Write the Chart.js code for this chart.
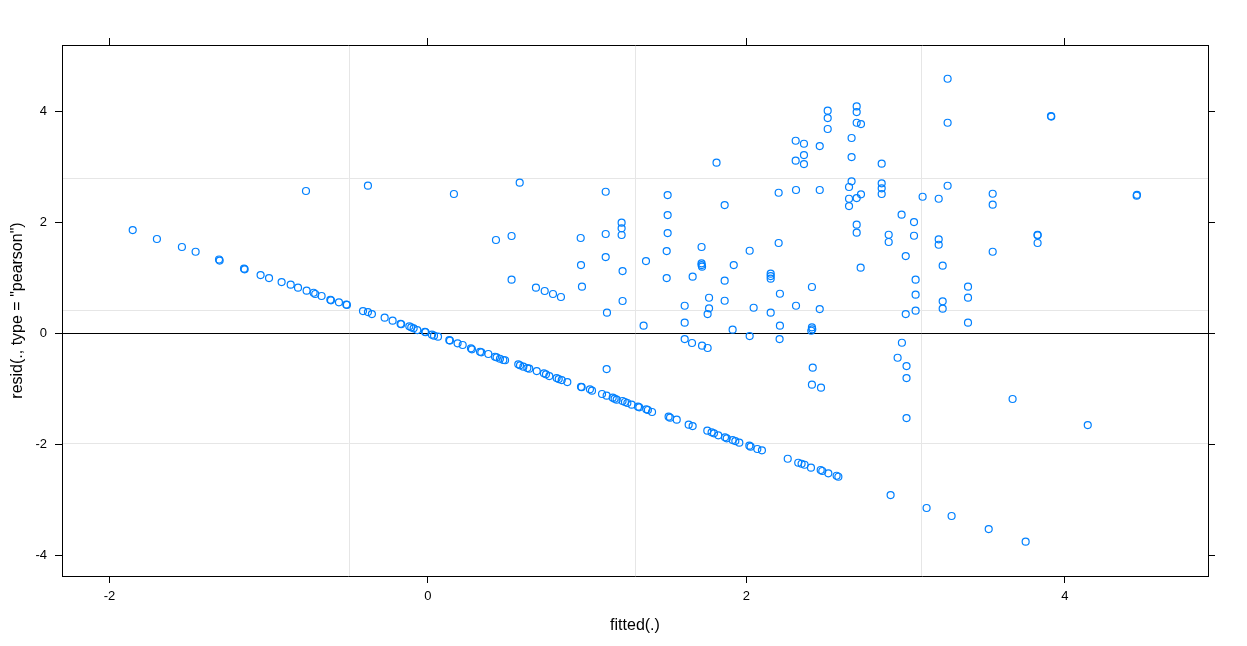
<!DOCTYPE html>
<html>
<head>
<meta charset="utf-8">
<script src="https://cdn.jsdelivr.net/npm/chart.js@4.4.1/dist/chart.umd.min.js"></script>
<style>
  body { margin: 0; background: #fff; }
  #wrap { width: 1247px; height: 646px; }
</style>
</head>
<body>
<div id="wrap"><canvas id="residChart"></canvas></div>
<script>
// points lying on the diagonal band (zero counts)
const lineFitted = [
  -1.854, -1.702, -1.545, -1.459, -1.312, -1.308, -1.155, -1.151, -1.051, -0.998,
  -0.919, -0.862, -0.816, -0.762, -0.718, -0.708, -0.668, -0.613, -0.609, -0.559,
  -0.513, -0.509, -0.408, -0.377, -0.352, -0.272, -0.222, -0.172, -0.168, -0.117,
  -0.105, -0.090, -0.067, -0.019, -0.015, 0.025, 0.038, 0.063, 0.134, 0.138,
  0.186, 0.218, 0.270, 0.276, 0.327, 0.335, 0.379, 0.421, 0.431, 0.452,
  0.473, 0.484, 0.567, 0.578, 0.599, 0.624, 0.636, 0.683, 0.728, 0.741,
  0.762, 0.808, 0.821, 0.840, 0.875, 0.961, 0.965, 1.017, 1.030, 1.093,
  1.122, 1.160, 1.172, 1.185, 1.222, 1.237, 1.252, 1.279, 1.319, 1.327,
  1.371, 1.381, 1.407, 1.511, 1.520, 1.562, 1.637, 1.662, 1.754, 1.781,
  1.796, 1.823, 1.865, 1.876, 1.913, 1.930, 1.955, 2.018, 2.026, 2.068,
  2.097, 2.259, 2.325, 2.346, 2.365, 2.405, 2.466, 2.476, 2.514, 2.566,
  2.577
];
const lineResid = [
  1.856, 1.694, 1.550, 1.465, 1.325, 1.305, 1.160, 1.148, 1.045, 0.991,
  0.919, 0.871, 0.817, 0.763, 0.726, 0.703, 0.667, 0.600, 0.590, 0.553,
  0.514, 0.506, 0.396, 0.378, 0.342, 0.276, 0.222, 0.166, 0.158, 0.120,
  0.103, 0.085, 0.054, 0.022, 0.014, -0.030, -0.048, -0.066, -0.128, -0.136,
  -0.186, -0.216, -0.276, -0.294, -0.337, -0.348, -0.378, -0.427, -0.438, -0.463,
  -0.486, -0.490, -0.564, -0.582, -0.607, -0.631, -0.643, -0.685, -0.726, -0.744,
  -0.775, -0.811, -0.829, -0.847, -0.883, -0.970, -0.976, -1.014, -1.039, -1.099,
  -1.129, -1.165, -1.183, -1.201, -1.225, -1.243, -1.261, -1.291, -1.327, -1.339,
  -1.375, -1.387, -1.423, -1.508, -1.526, -1.562, -1.652, -1.676, -1.760, -1.789,
  -1.807, -1.843, -1.879, -1.897, -1.928, -1.946, -1.976, -2.030, -2.048, -2.090,
  -2.114, -2.265, -2.337, -2.355, -2.373, -2.427, -2.468, -2.486, -2.528, -2.572,
  -2.590
];

// the rest of the cloud
const cloudFitted = [
  -0.766, -0.377, 0.163, 0.576, 0.427, 0.525, 0.525, 0.678, 0.733, 0.785,
  0.835, 0.959, 0.961, 0.967, 1.116, 1.116, 1.116, 1.124, 1.122, 1.216,
  1.216, 1.216, 1.222, 1.222, 1.354, 1.369, 1.505, 1.505, 1.505, 1.499,
  1.499, 1.612, 1.612, 1.612, 1.658, 1.721, 1.756, 1.662, 1.718, 1.718,
  1.718, 1.721, 1.765, 1.765, 1.756, 1.812, 1.863, 1.863, 1.863, 1.920,
  1.913, 2.020, 2.045, 2.020, 2.152, 2.152, 2.152, 2.152, 2.202, 2.202,
  2.210, 2.210, 2.208, 2.309, 2.361, 2.309, 2.361, 2.361, 2.311, 2.460,
  2.460, 2.411, 2.311, 2.460, 2.411, 2.413, 2.407, 2.416, 2.411, 2.468,
  2.510, 2.510, 2.510, 2.692, 2.692, 2.692, 2.719, 2.660, 2.660, 2.849,
  2.660, 2.644, 2.849, 2.849, 2.849, 2.644, 2.644, 2.692, 2.719, 2.692,
  2.692, 2.717, 2.893, 2.893, 2.974, 3.000, 3.052, 3.052, 3.062, 3.062,
  3.062, 3.000, 3.106, 3.207, 3.207, 3.207, 3.232, 3.232, 3.232, 3.263,
  3.263, 3.263, 2.976, 2.949, 3.005, 3.005, 3.005, 3.391, 3.391, 3.391,
  3.546, 3.546, 3.546, 3.671, 3.828, 3.828, 3.828, 3.912, 3.914, 4.143,
  4.450, 4.452, 2.905, 3.131, 3.288, 3.521, 3.753
];
const cloudResid = [
  2.559, 2.655, 2.505, 2.709, 1.676, 1.748, 0.961, 0.817, 0.757, 0.703,
  0.649, 1.712, 1.225, 0.835, 2.546, 1.784, 1.369, 0.366, -0.649, 1.988,
  1.886, 1.766, 1.117, 0.577, 0.132, 1.297, 2.486, 2.126, 1.802, 1.477,
  0.991, 0.492, 0.186, -0.108, -0.180, -0.228, -0.270, 1.015, 1.550, 1.256,
  1.225, 1.195, 0.636, 0.445, 0.342, 3.069, 2.306, 0.943, 0.582, 1.225,
  0.060, 1.483, 0.456, -0.054, 1.069, 1.027, 0.979, 0.366, 2.528, 1.622,
  0.708, 0.132, -0.108, 3.465, 3.411, 3.105, 3.207, 3.045, 2.577, 2.577,
  3.369, 0.829, 0.492, 0.432, 0.103, 0.067, 0.041, -0.625, -0.931, -0.985,
  4.006, 3.874, 3.676, 4.084, 3.982, 3.789, 3.766, 3.514, 3.171, 3.051,
  2.733, 2.631, 2.697, 2.607, 2.505, 2.420, 2.288, 2.432, 2.499, 1.952,
  1.808, 1.177, 1.771, 1.640, 2.132, 1.387, 2.000, 1.753, 0.961, 0.691,
  0.402, 0.342, 2.456, 2.420, 1.688, 1.591, 1.213, 0.571, 0.438, 4.582,
  3.789, 2.654, -0.175, -0.445, -0.595, -0.811, -1.532, 0.835, 0.637, 0.186,
  2.510, 2.312, 1.465, -1.189, 1.771, 1.760, 1.622, 3.910, 3.900, -1.658,
  2.474, 2.490, -2.919, -3.153, -3.297, -3.532, -3.760
];

const xTicks = [-2, 0, 2, 4];
const yTicks = [-4, -2, 0, 2, 4];
const xGridVals = [-0.494, 1.302, 3.098];
const yGridVals = [-1.987, 0.409, 2.787];
const xRange = [-2.298, 4.898];
const yRange = [-4.378, 5.19];

const fam = "'Liberation Sans', Arial, sans-serif";
const tickFont = { family: fam, size: 13 };
const titleFont = { family: fam, size: 16 };

function fixTicks(values) {
  return function (scale) {
    scale.ticks = values.map(function (v) { return { value: v }; });
  };
}

const points = [];
lineFitted.forEach(function (v, i) { points.push({ x: v, y: lineResid[i] }); });
cloudFitted.forEach(function (v, i) { points.push({ x: v, y: cloudResid[i] }); });

// axes that only carry tick marks (top/right) or only the grey reference lines
function markAxis(pos, vals, size) {
  const horiz = pos === "top" || pos === "bottom";
  return {
    type: "linear",
    position: pos,
    min: horiz ? xRange[0] : yRange[0],
    max: horiz ? xRange[1] : yRange[1],
    afterBuildTicks: fixTicks(vals),
    afterFit: function (s) { if (horiz) s.height = size; else s.width = size; },
    grid: { drawOnChartArea: false, tickLength: 7, tickColor: "#000", tickWidth: 1 },
    border: { display: true, color: "#000", width: 1 },
    ticks: { display: false },
  };
}
function refAxis(pos, vals) {
  const horiz = pos === "bottom";
  return {
    type: "linear",
    position: pos,
    min: horiz ? xRange[0] : yRange[0],
    max: horiz ? xRange[1] : yRange[1],
    afterBuildTicks: fixTicks(vals),
    afterFit: function (s) { if (horiz) s.height = 0; else s.width = 0; },
    grid: { drawOnChartArea: true, drawTicks: false, color: "#e6e6e6", lineWidth: 1 },
    border: { display: false },
    ticks: { display: false },
  };
}

new Chart(document.getElementById("residChart"), {
  type: "scatter",
  data: {
    datasets: [
      {
        data: points,
        xAxisID: "x",
        yAxisID: "y",
        pointStyle: "circle",
        pointRadius: 3.5,
        pointBorderWidth: 1.2,
        pointBorderColor: "#0080ff",
        pointBackgroundColor: "rgba(0,0,0,0)",
        pointHoverRadius: 3.5,
      },
    ],
  },
  options: {
    responsive: true,
    maintainAspectRatio: false,
    animation: false,
    layout: { padding: 0 },
    plugins: { legend: { display: false }, tooltip: { enabled: false } },
    scales: {
      gx: refAxis("bottom", xGridVals),
      gy: refAxis("left", yGridVals),
      x: {
        type: "linear",
        position: "bottom",
        min: xRange[0],
        max: xRange[1],
        afterBuildTicks: fixTicks(xTicks),
        afterFit: function (s) { s.height = 70; },
        grid: { drawOnChartArea: false, tickLength: 7, tickColor: "#000", tickWidth: 1 },
        border: { color: "#000", width: 1 },
        ticks: {
          color: "#000",
          font: tickFont,
          padding: 6,
          maxRotation: 0,
          autoSkip: false,
          callback: function (v) { return String(v); },
        },
        title: {
          display: true,
          text: "fitted(.)",
          color: "#000",
          font: titleFont,
          padding: { top: 0, bottom: 11 },
        },
      },
      y: {
        type: "linear",
        position: "left",
        min: yRange[0],
        max: yRange[1],
        afterBuildTicks: fixTicks(yTicks),
        afterFit: function (s) { s.width = 62; },
        grid: {
          drawOnChartArea: true,
          tickLength: 7,
          tickColor: "#000",
          tickWidth: 1,
          lineWidth: 1,
          // only the zero line is drawn across the panel
          color: function (ctx) {
            return ctx.tick && ctx.tick.value === 0 ? "#000" : "rgba(0,0,0,0)";
          },
        },
        border: { color: "#000", width: 1 },
        ticks: {
          color: "#000",
          font: tickFont,
          padding: 8,
          autoSkip: false,
          callback: function (v) { return String(v); },
        },
        title: {
          display: true,
          text: 'resid(., type = "pearson")',
          color: "#000",
          font: titleFont,
          padding: { top: 8, bottom: 0 },
        },
      },
      x2: markAxis("top", xTicks, 45),
      y2: markAxis("right", yTicks, 39),
    },
  },
});
</script>
</body>
</html>
